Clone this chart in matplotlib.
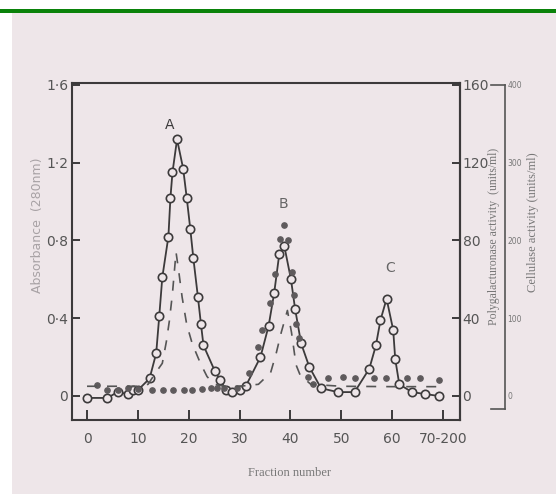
import numpy as np
import matplotlib
matplotlib.use("Agg")
import matplotlib.pyplot as plt
import matplotlib.transforms as mtransforms

# absorbance at 280 nm (open circles, solid line)
abs_x = [0, 4, 6, 8, 9, 10, 12.3, 13.6, 14.2, 14.8, 16.0, 16.4, 16.8, 17.7,
         18.9, 19.6, 20.3, 20.9, 21.8, 22.4, 22.9, 25.1, 26.2, 27.4, 28.5, 30,
         31.2, 34.1, 35.7, 36.8, 37.8, 38.8, 40.1, 40.9, 42.1, 43.7, 46.0, 49.3,
         52.6, 55.5, 56.8, 57.7, 58.9, 60.2, 60.6, 61.4, 63.9, 66.5, 69.2]
abs_y = [-0.01, -0.01, 0.02, 0.01, 0.03, 0.03, 0.09, 0.22, 0.41, 0.61, 0.82, 1.02, 1.15, 1.32,
         1.17, 1.02, 0.86, 0.71, 0.51, 0.37, 0.26, 0.13, 0.08, 0.03, 0.02, 0.03,
         0.05, 0.20, 0.36, 0.53, 0.73, 0.77, 0.60, 0.45, 0.27, 0.15, 0.04, 0.02,
         0.02, 0.14, 0.26, 0.39, 0.50, 0.34, 0.19, 0.06, 0.02, 0.01, 0.0]

# polygalacturonase activity, units/ml (filled dots)
pg_x = [2, 4, 6, 8, 10, 12.8, 15.0, 17.0, 19.0, 20.7, 22.6, 24.4, 25.5, 27, 29.5,
        31.8, 33.7, 34.5, 36.0, 37.0, 38.0, 38.8, 39.6, 40.3, 40.6, 41.0, 41.6, 43.5,
        44.5, 47.4, 50.3, 52.6, 56.5, 58.7, 63.0, 65.5, 69.2]
pg_y = [5.5, 3, 3, 4, 3.5, 3, 3, 3, 3, 3, 3.5, 4, 4, 4, 4,
        12, 25, 34, 48, 63, 81, 88, 80, 64, 52, 37, 30, 10,
        6, 9, 10, 9, 9, 9, 9, 9, 8]

# cellulase activity, units/ml (dashed line)
cel_x = [0, 10, 12, 13.5, 14.8, 15.6, 16.2, 16.8, 17.5, 18.1, 18.7, 19.6, 20.7,
         22.3, 23.6, 25, 27, 30, 33.7, 36.1, 37.2, 38.2, 39.4, 40.2, 41.1, 41.9,
         44, 50, 60, 70]
cel_y = [12.5, 12.5, 15, 30, 42, 70, 97, 132, 185, 157, 127, 92, 67,
         42, 25, 15, 12.5, 12.5, 15, 30, 55, 82, 110, 82, 40, 27,
         15, 12.5, 12, 12]

x_ticks = [0, 10, 20, 30, 40, 50, 60, 70]
x_labels = ["0", "10", "20", "30", "40", "50", "60", "70-200"]
abs_ticks = [0, 0.4, 0.8, 1.2, 1.6]
abs_labels = ["0", "0·4", "0·8", "1·2", "1·6"]
pg_ticks = [0, 40, 80, 120, 160]
cel_ticks = [0, 100, 200, 300, 400]
peaks = [("A", 16.2, 1.36), ("B", 38.6, 0.95), ("C", 59.6, 0.62)]

paper = "#eee6e9"
ink = "#3c3a3b"

fig = plt.figure(figsize=(5.56, 4.94), dpi=100)
fig.patch.set_facecolor("white")

# scanned page background
bg = fig.add_axes([0, 0, 1, 1])
bg.set_xlim(0, 556)
bg.set_ylim(494, 0)
bg.axis("off")
cols = np.linspace(0, 1, 60)
c0 = np.array([160, 156, 158]) / 255
c1 = np.array([238, 230, 233]) / 255
grad = np.array([c0 + (c1 - c0) * t for t in cols])[None, :, :]
bg.add_patch(plt.Rectangle((12, 13), 544, 481, color=paper, lw=0))
bg.imshow(grad, extent=(12, 50, 494, 13), aspect="auto")
bg.add_patch(plt.Rectangle((0, 9), 556, 4, color="#0a820a", lw=0))

ax = fig.add_axes([0.13, 0.15, 0.697, 0.682])
ax.set_facecolor("none")
ax.set_xlim(-2.9, 73.3)
ax.set_ylim(-0.123, 1.61)

ax.plot(abs_x, abs_y, "-", color=ink, lw=1.3, marker="o", ms=6,
        mfc=paper, mec=ink, mew=1.2, zorder=4)

for name, px, py in peaks:
    ax.text(px, py, name, ha="center", va="bottom", fontsize=10,
            color=ink if name == "A" else "#666")

for s in ["top", "bottom", "left", "right"]:
    ax.spines[s].set_color(ink)
    ax.spines[s].set_linewidth(1.5)

ax.set_xticks(x_ticks)
ax.set_xticklabels(x_labels)
ax.set_yticks(abs_ticks)
ax.set_yticklabels(abs_labels)
ax.tick_params(axis="x", direction="in", length=7, width=1.4, color=ink,
               pad=9, labelsize=10, labelcolor="#555")
ax.tick_params(axis="y", direction="in", length=6, width=1.4, color=ink,
               pad=3, labelsize=10, labelcolor="#555")

# polygalacturonase axis
ax2 = ax.twinx()
ax2.set_ylim(-12.3, 161)
ax2.plot(pg_x, pg_y, "o", color="#5e5a5c", ms=3.8, zorder=3)
ax2.set_yticks(pg_ticks)
ax2.tick_params(axis="y", direction="in", length=6, width=1.4, color=ink,
                pad=2, labelsize=10, labelcolor="#555")
for s in ["top", "bottom", "left"]:
    ax2.spines[s].set_visible(False)
ax2.spines["right"].set_color(ink)
ax2.spines["right"].set_linewidth(1.5)

# cellulase axis
ax3 = ax.twinx()
ax3.set_ylim(-30.75, 402.5)
ax3.plot(cel_x, cel_y, color="#555", lw=1.2, dashes=(6, 6), zorder=2)
for s in ["top", "bottom", "left"]:
    ax3.spines[s].set_visible(False)
ax3.spines["right"].set_position(("axes", 1.116))
ax3.spines["right"].set_bounds(-17, 400)
ax3.spines["right"].set_color("#555")
ax3.spines["right"].set_linewidth(1.2)
ax3.set_yticks(cel_ticks)
ax3.tick_params(axis="y", length=0, pad=2, labelsize=5.5, labelcolor="#777")
tr = mtransforms.blended_transform_factory(ax3.transAxes, ax3.transData)
for yv in [400, -17]:
    ax3.plot([1.08, 1.116], [yv, yv], color="#555", lw=1.2,
             transform=tr, clip_on=False)

fig.text(38 / 556, 1 - 225 / 494, "Absorbance  (280nm)", rotation=90,
         ha="center", va="center", fontsize=9, color="#a8a2a5")
fig.text(290 / 556, 1 - 473 / 494, "Fraction number", ha="center", va="center",
         fontsize=9, color="#777", family="Liberation Serif")
fig.text(494 / 556, 1 - 236 / 494, "Polygalacturonase activity  (units/ml)",
         rotation=90, ha="center", va="center", fontsize=8.5, color="#777",
         family="Liberation Serif")
fig.text(533 / 556, 1 - 222 / 494, "Cellulase activity (units/ml)",
         rotation=90, ha="center", va="center", fontsize=9, color="#777",
         family="Liberation Serif")

fig.savefig("out.png", dpi=100, facecolor=fig.get_facecolor())
